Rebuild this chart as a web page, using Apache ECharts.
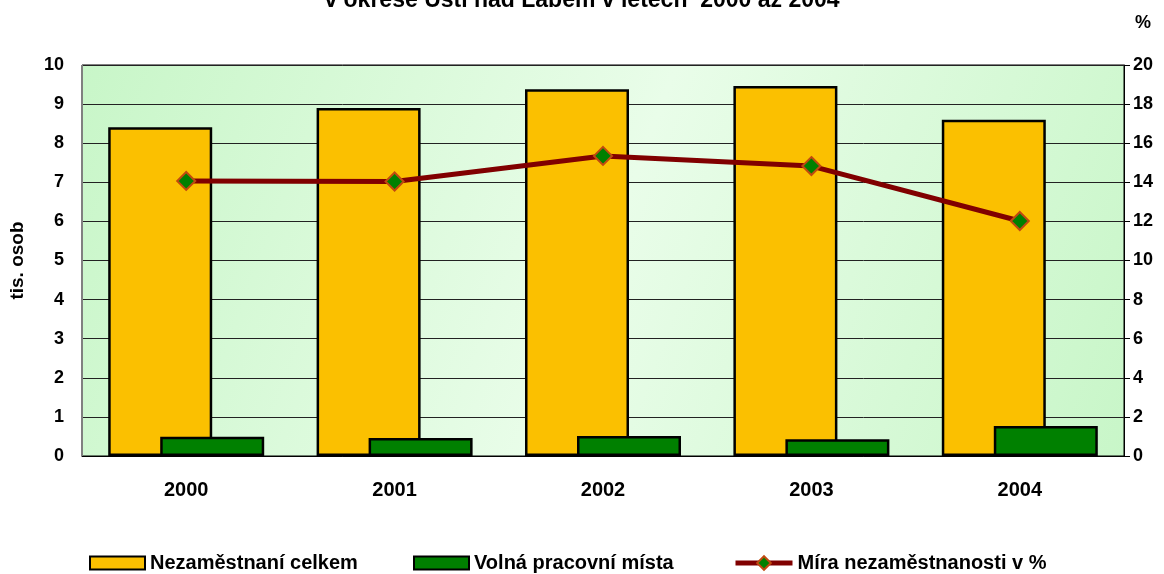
<!DOCTYPE html>
<html>
<head>
<meta charset="utf-8">
<script src="https://cdn.jsdelivr.net/npm/echarts@6/dist/echarts.min.js"></script>
<style>
  html, body { margin: 0; padding: 0; background: #fff; }
  #chart { width: 1164px; height: 574px; }
</style>
</head>
<body>
<div id="chart"></div>
<script>
const years = ['2000', '2001', '2002', '2003', '2004'];
const unemployed = [8.41, 8.9, 9.38, 9.46, 8.6];      // tis. osob
const vacancies = [0.49, 0.46, 0.51, 0.43, 0.77];    // tis. osob
const rate = [14.07, 14.04, 15.35, 14.83, 12.02];    // %
const leftTicks = [0, 10, 1];
const rightTicks = [0, 20, 2];

const chart = echarts.init(document.getElementById('chart'));
const font = 'Liberation Sans, Arial, sans-serif';
const legendText = { fontSize: 20, fontWeight: 'bold', color: '#000', fontFamily: font };

const option = {
  animation: false,
  textStyle: { fontFamily: font },
  title: {
    text: 'v okrese Ústí nad Labem v letech  2000 až 2004',
    left: 'center',
    top: -16,
    textStyle: { fontSize: 23, fontWeight: 'bold', color: '#000', fontFamily: font }
  },
  legend: [
    {
      left: 89, top: 553, padding: 0, itemWidth: 55, itemHeight: 13, textStyle: legendText,
      data: [{ name: 'Nezaměstnaní celkem', icon: 'rect' }]
    },
    {
      left: 413, top: 553, padding: 0, itemWidth: 55, itemHeight: 13, textStyle: legendText,
      data: [{ name: 'Volná pracovní místa', icon: 'rect' }]
    },
    {
      left: 733, top: 553, padding: 0, itemWidth: 57, itemHeight: 17, textStyle: legendText,
      data: [{ name: 'Míra nezaměstnanosti v %', lineStyle: { width: 5, color: '#800000' } }]
    }
  ],
  grid: {
    left: 82,
    right: 40,
    top: 65,
    bottom: 118,
    show: true,
    borderColor: '#000',
    borderWidth: 1,
    backgroundColor: new echarts.graphic.LinearGradient(0, 0, 1, 1, [
      { offset: 0, color: '#c8f6c8' },
      { offset: 0.5, color: '#e9fde9' },
      { offset: 1, color: '#c8f6c8' }
    ])
  },
  xAxis: {
    type: 'category',
    data: years,
    axisLine: { lineStyle: { color: '#000', width: 1 } },
    axisTick: { show: false },
    axisLabel: { fontSize: 20, fontWeight: 'bold', color: '#000', margin: 24 }
  },
  yAxis: [
    {
      type: 'value',
      name: 'tis. osob',
      nameLocation: 'middle',
      nameGap: 55,
      nameTextStyle: { fontSize: 19, fontWeight: 'bold', color: '#000' },
      min: leftTicks[0],
      max: leftTicks[1],
      interval: leftTicks[2],
      axisLine: { show: true, lineStyle: { color: '#808080' } },
      axisTick: { show: false },
      splitLine: { lineStyle: { color: '#222', width: 1 } },
      axisLabel: { fontSize: 18, fontWeight: 'bold', color: '#000', margin: 18 }
    },
    {
      type: 'value',
      name: '%',
      nameLocation: 'end',
      nameGap: 33,
      nameTextStyle: { fontSize: 18, fontWeight: 'bold', color: '#000', align: 'left', padding: [0, 0, 0, 11] },
      min: rightTicks[0],
      max: rightTicks[1],
      interval: rightTicks[2],
      axisLine: { show: true, lineStyle: { color: '#000' } },
      axisTick: { show: true, length: 6, lineStyle: { color: '#000' } },
      splitLine: { show: false },
      axisLabel: { fontSize: 18, fontWeight: 'bold', color: '#000', margin: 9 }
    }
  ],
  series: [
    {
      name: 'Nezaměstnaní celkem',
      type: 'bar',
      data: unemployed,
      barWidth: 104,
      barGap: '-50%',
      itemStyle: { color: '#fbc000', borderColor: '#000', borderWidth: 2.5 }
    },
    {
      name: 'Volná pracovní místa',
      type: 'bar',
      data: vacancies,
      barWidth: 104,
      itemStyle: { color: '#008000', borderColor: '#000', borderWidth: 2.5 }
    },
    {
      name: 'Míra nezaměstnanosti v %',
      type: 'line',
      yAxisIndex: 1,
      data: rate,
      symbol: 'diamond',
      symbolSize: 18,
      lineStyle: { color: '#800000', width: 5 },
      itemStyle: { color: '#008000', borderColor: '#c04a10', borderWidth: 2 }
    }
  ]
};

chart.setOption(option);
</script>
</body>
</html>
